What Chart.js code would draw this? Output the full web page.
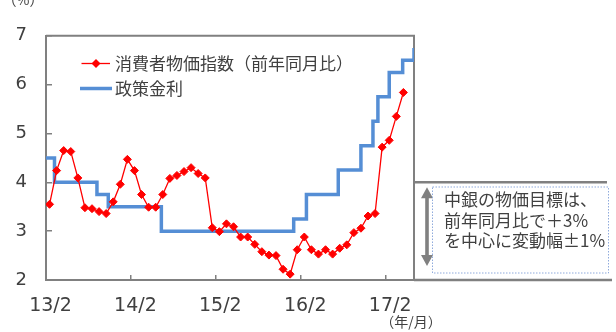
<!DOCTYPE html>
<html lang="ja">
<head>
<meta charset="utf-8">
<script src="https://cdn.jsdelivr.net/npm/chart.js@4/dist/chart.umd.min.js"></script>
<style>
  html, body { margin: 0; padding: 0; background: #ffffff; }
  #wrap { position: relative; width: 616px; height: 332px; }
  canvas { display: block; }
</style>
</head>
<body>
<div id="wrap"><canvas id="chart" width="616" height="332"></canvas></div>
<script>
// 消費者物価指数（前年同月比, %）: 2013年2月〜2017年4月の月次
const cpiYoY = [
  3.55, 4.24, 4.65, 4.63, 4.09, 3.48, 3.46, 3.40, 3.36, 3.60, 3.96,
  4.47, 4.24, 3.75, 3.49, 3.49, 3.75, 4.08, 4.14, 4.22, 4.30, 4.18, 4.09,
  3.07, 2.99, 3.15, 3.09, 2.88, 2.88, 2.73, 2.58, 2.51, 2.50, 2.22, 2.12,
  2.62, 2.88, 2.62, 2.53, 2.62, 2.53, 2.65, 2.72, 2.97, 3.06, 3.31, 3.36,
  4.72, 4.86, 5.35, 5.84
];

// 政策金利: 変更時点（2013年2月からの経過月数）と水準（%）
const rateChangeAt = [0, 1.2, 7.2, 8.8, 16.3, 35.0, 36.8, 41.3, 44.5, 46.2, 46.9, 48.5, 50.4, 52];
const policyRate   = [4.5, 4.0, 3.75, 3.5, 3.0, 3.25, 3.75, 4.25, 4.75, 5.25, 5.75, 6.25, 6.5, 6.75];

// 横軸の目盛り（経過月数）とそのラベル
const tickMonths = [0, 12, 24, 36, 48];
const tickLabels = ['13/2', '14/2', '15/2', '16/2', '17/2'];

// 縦軸の範囲
const yMin = 2, yMax = 7, yStep = 1;

// 中銀の物価目標（中心と変動幅）
const targetCenter = 3;
const targetBand = 1;

const seriesNames = ['消費者物価指数（前年同月比）', '政策金利'];
const noteLines = ['中銀の物価目標は、', '前年同月比で＋3%', 'を中心に変動幅±1%'];

const TEXT = '#404040';
const GRAY = '#808080';
const RED = '#FF0000';
const BLUE = '#558ED5';
const FONT_LATIN = '"DejaVu Sans", "Noto Sans CJK JP", sans-serif';
const FONT_JP = '"Noto Sans CJK JP", "DejaVu Sans", sans-serif';

const cpiPoints = cpiYoY.map((v, i) => ({ x: i + 0.5, y: v }));
const ratePoints = policyRate.map((v, i) => ({ x: rateChangeAt[i], y: v }));

function diamond(ctx, x, y, r) {
  ctx.beginPath();
  ctx.moveTo(x - r, y);
  ctx.lineTo(x, y - r);
  ctx.lineTo(x + r, y);
  ctx.lineTo(x, y + r);
  ctx.closePath();
}

const decorations = {
  id: 'decorations',
  beforeDatasetsDraw(chart) {
    const { ctx, chartArea: a } = chart;
    ctx.save();
    ctx.strokeStyle = GRAY;
    ctx.lineWidth = 2;
    ctx.beginPath();
    ctx.moveTo(a.left, a.top);
    ctx.lineTo(a.right, a.top);
    ctx.lineTo(a.right, a.bottom);
    ctx.stroke();
    ctx.restore();
  },
  afterDraw(chart) {
    const { ctx, chartArea: a, scales } = chart;
    const ys = scales.y;
    ctx.save();

    // 凡例
    const lx = a.left + 34;
    const ly1 = 63.5, ly2 = 88.5;
    ctx.strokeStyle = RED;
    ctx.lineWidth = 1.3;
    ctx.beginPath();
    ctx.moveTo(lx + 1.5, ly1);
    ctx.lineTo(lx + 30, ly1);
    ctx.stroke();
    ctx.fillStyle = RED;
    diamond(ctx, lx + 16, ly1, 4.5);
    ctx.fill();
    ctx.strokeStyle = BLUE;
    ctx.lineWidth = 3.5;
    ctx.beginPath();
    ctx.moveTo(lx, ly2);
    ctx.lineTo(lx + 32, ly2);
    ctx.stroke();
    ctx.fillStyle = TEXT;
    ctx.font = '17px ' + FONT_JP;
    ctx.textAlign = 'left';
    ctx.textBaseline = 'middle';
    ctx.fillText(seriesNames[0], lx + 35, ly1);
    ctx.fillText(seriesNames[1], lx + 35, ly2);

    // 単位
    ctx.font = '14px ' + FONT_JP;
    ctx.textAlign = 'center';
    ctx.fillText('（%）', 23, 0);
    ctx.fillText('（年/月）', 411, 322);

    // 物価目標レンジ
    const yHi = ys.getPixelForValue(targetCenter + targetBand);
    const yLo = ys.getPixelForValue(targetCenter - targetBand);
    ctx.strokeStyle = GRAY;
    ctx.lineWidth = 2.5;
    ctx.beginPath();
    ctx.moveTo(a.right, yHi);
    ctx.lineTo(607, yHi);
    ctx.moveTo(a.right, yLo);
    ctx.lineTo(612, yLo);
    ctx.stroke();

    // 両矢印
    const ax = 427;
    const top = yHi + 5, bot = yLo - 14;
    const hw = 6, hh = 11, sw = 1.8;
    ctx.fillStyle = GRAY;
    ctx.beginPath();
    ctx.moveTo(ax, top);
    ctx.lineTo(ax + hw, top + hh);
    ctx.lineTo(ax + sw, top + hh);
    ctx.lineTo(ax + sw, bot - hh);
    ctx.lineTo(ax + hw, bot - hh);
    ctx.lineTo(ax, bot);
    ctx.lineTo(ax - hw, bot - hh);
    ctx.lineTo(ax - sw, bot - hh);
    ctx.lineTo(ax - sw, top + hh);
    ctx.lineTo(ax - hw, top + hh);
    ctx.closePath();
    ctx.fill();

    // 注記の点線枠
    ctx.strokeStyle = '#8FAADC';
    ctx.lineWidth = 1;
    ctx.setLineDash([1.5, 1.5]);
    ctx.strokeRect(432.5, 187, 176, 86);
    ctx.setLineDash([]);

    ctx.fillStyle = TEXT;
    ctx.font = '17px ' + FONT_JP;
    ctx.textAlign = 'left';
    ctx.textBaseline = 'middle';
    noteLines.forEach((t, i) => ctx.fillText(t, 444, 200 + i * 20.3));

    ctx.restore();
  }
};

new Chart(document.getElementById('chart'), {
  type: 'line',
  data: {
    datasets: [
      {
        label: seriesNames[0],
        data: cpiPoints,
        borderColor: RED,
        backgroundColor: RED,
        borderWidth: 1.3,
        pointStyle: 'rectRot',
        pointRadius: 4,
        pointBorderWidth: 1,
        pointBorderColor: RED,
        pointBackgroundColor: RED,
        tension: 0
      },
      {
        label: seriesNames[1],
        data: ratePoints,
        borderColor: BLUE,
        backgroundColor: BLUE,
        borderWidth: 3.5,
        stepped: true,
        pointRadius: 0,
        borderJoinStyle: 'miter',
        borderCapStyle: 'butt'
      }
    ]
  },
  options: {
    responsive: false,
    animation: false,
    events: [],
    layout: { padding: { top: 23, right: 202, left: 0, bottom: 0 } },
    plugins: { legend: { display: false }, tooltip: { enabled: false } },
    scales: {
      x: {
        type: 'linear',
        min: 0,
        max: 52,
        afterFit(s) { s.height = 52; },
        afterBuildTicks(s) { s.ticks = tickMonths.map(v => ({ value: v })); },
        grid: { drawOnChartArea: false, drawTicks: true, tickLength: -5, color: GRAY, lineWidth: 1.5 },
        border: { display: true, color: GRAY, width: 2 },
        ticks: {
          autoSkip: false,
          maxRotation: 0,
          color: TEXT,
          font: { family: FONT_LATIN, size: 19 },
          padding: 20,
          labelOffset: 4.5,
          callback: (v) => tickLabels[tickMonths.indexOf(v)] ?? ''
        }
      },
      y: {
        min: yMin,
        max: yMax,
        afterFit(s) { s.width = 46; },
        grid: { drawOnChartArea: false, drawTicks: true, tickLength: -6, color: GRAY, lineWidth: 1.5 },
        border: { display: true, color: GRAY, width: 2 },
        ticks: {
          stepSize: yStep,
          color: TEXT,
          font: { family: FONT_LATIN, size: 18 },
          padding: 25
        }
      }
    }
  },
  plugins: [decorations]
});
</script>
</body>
</html>
